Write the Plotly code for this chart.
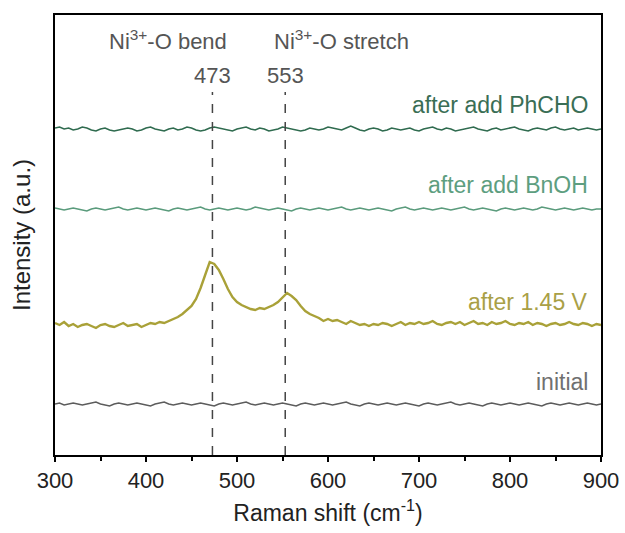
import plotly.graph_objects as go

wavenumber = list(range(300, 905, 5))

phcho = [327, 328, 326, 327, 325, 326, 328, 327, 325, 324,
         326, 327, 325, 324, 325, 326, 327, 326, 324, 325,
         327, 328, 326, 325, 324, 326, 327, 325, 326, 328,
         327, 325, 324, 325, 327, 328, 327, 326, 325, 324,
         326, 327, 328, 326, 325, 327, 326, 324, 325, 326,
         328, 327, 326, 325, 324, 325, 327, 326, 325, 326,
         328, 327, 326, 325, 327, 329, 327, 325, 324, 326,
         327, 326, 324, 325, 327, 326, 325, 326, 327, 325,
         324, 326, 327, 328, 326, 325, 327, 326, 324, 325,
         326, 327, 328, 326, 325, 324, 326, 327, 325, 326,
         327, 328, 326, 325, 324, 326, 327, 326, 325, 327,
         328, 326, 325, 326, 327, 325, 326, 327, 326, 325,
         326]

bnoh = [247, 246, 245, 246, 247, 246, 245, 244, 246, 247,
        246, 245, 246, 247, 248, 246, 245, 246, 247, 246,
        245, 246, 247, 246, 245, 244, 246, 247, 246, 245,
        246, 247, 248, 246, 245, 246, 247, 246, 245, 246,
        247, 246, 245, 246, 248, 247, 246, 245, 246, 247,
        246, 245, 244, 246, 247, 246, 245, 246, 247, 246,
        245, 246, 247, 248, 246, 245, 246, 247, 246, 245,
        246, 247, 246, 245, 244, 246, 247, 248, 246, 245,
        246, 247, 246, 245, 246, 247, 246, 245, 246, 247,
        248, 246, 245, 246, 247, 246, 245, 244, 246, 247,
        246, 245, 246, 247, 246, 245, 246, 248, 247, 246,
        245, 246, 247, 246, 245, 246, 247, 246, 245, 246,
        246]

after_145v = [132, 130, 133, 129, 131, 128, 130, 131, 129, 127,
              130, 131, 129, 128, 130, 132, 129, 130, 131, 128,
              130, 132, 131, 133, 132, 134, 136, 138, 141, 145,
              149, 156, 167, 180, 193, 191, 185, 176, 166, 158,
              153, 150, 148, 146, 145, 147, 146, 148, 150, 153,
              158, 162, 159, 155, 149, 144, 141, 139, 137, 134,
              136, 134, 135, 133, 131, 134, 132, 130, 131, 129,
              131, 130, 132, 131, 129, 131, 133, 130, 132, 131,
              133, 131, 132, 134, 131, 130, 132, 133, 131, 133,
              130, 132, 134, 131, 132, 130, 133, 131, 132, 134,
              131, 130, 132, 131, 133, 130, 132, 131, 129, 131,
              132, 130, 131, 133, 131, 130, 132, 131, 129, 131,
              130]

initial = [51, 52, 50, 51, 52, 51, 50, 51, 52, 53,
           51, 50, 49, 51, 52, 51, 50, 51, 52, 51,
           50, 49, 51, 52, 53, 51, 50, 51, 52, 51,
           50, 51, 52, 51, 50, 49, 51, 52, 51, 50,
           51, 52, 53, 51, 50, 51, 52, 51, 50, 51,
           52, 51, 50, 49, 51, 52, 51, 50, 51, 52,
           51, 50, 51, 52, 53, 51, 50, 49, 51, 52,
           51, 50, 51, 52, 51, 50, 51, 52, 51, 50,
           49, 51, 52, 51, 50, 51, 52, 53, 51, 50,
           51, 52, 51, 50, 49, 51, 52, 51, 50, 51,
           52, 51, 50, 51, 52, 51, 50, 49, 51, 52,
           51, 50, 51, 52, 51, 50, 51, 52, 51, 50,
           51]

series_names = ["after add PhCHO", "after add BnOH", "after 1.45 V", "initial"]
series_values = [phcho, bnoh, after_145v, initial]
line_colors = ["#2f6b4f", "#5a9b7c", "#a9a138", "#5c5c5c"]
label_colors = ["#3a6e55", "#5d9e80", "#a9a046", "#707070"]
label_y = [350, 270, 153, 73]
line_widths = [1.6, 1.6, 2.4, 1.4]

peak_positions = [473, 553]
peak_names = ["Ni<sup>3+</sup>-O bend", "Ni<sup>3+</sup>-O stretch"]
peak_name_x = [424, 615]

FONT = "Liberation Sans, Arial, sans-serif"

fig = go.Figure()
for name, vals, col, w in zip(series_names, series_values, line_colors, line_widths):
    fig.add_trace(go.Scatter(x=wavenumber, y=vals, mode="lines", name=name,
                             line=dict(color=col, width=w)))

for name, col, ly in zip(series_names, label_colors, label_y):
    fig.add_annotation(x=888, y=ly, text=name, showarrow=False, xanchor="right",
                       yanchor="middle", font=dict(size=23, color=col, family=FONT))

for p in peak_positions:
    fig.add_shape(type="line", x0=p, x1=p, y0=0, y1=363, xref="x", yref="y",
                  line=dict(color="#444444", width=1.5, dash="dash"))
    fig.add_annotation(x=p, y=380, text=str(p), showarrow=False, yanchor="middle",
                       font=dict(size=22, color="#555555", family=FONT))

for nm, nx in zip(peak_names, peak_name_x):
    fig.add_annotation(x=nx, y=415, text=nm, showarrow=False, yanchor="middle",
                       font=dict(size=22, color="#555555", family=FONT))

fig.update_layout(
    width=625, height=533,
    margin=dict(l=55, r=24, t=15, b=78),
    paper_bgcolor="white", plot_bgcolor="white",
    showlegend=False,
    font=dict(family=FONT, color="#222222"),
)
fig.update_xaxes(range=[300, 900], dtick=100, tick0=300, showgrid=False, zeroline=False,
                 automargin=False,
                 showline=True, mirror=True, linewidth=2, linecolor="black",
                 ticks="outside", ticklen=5, tickwidth=1.5, tickcolor="black",
                 minor=dict(dtick=50, ticks="outside", ticklen=4, tickwidth=1.5, tickcolor="black"),
                 tickfont=dict(size=22, color="#222222", family=FONT),
                 title=dict(text="Raman shift (cm<sup>-1</sup>)", standoff=12,
                            font=dict(size=23, color="#222222", family=FONT)))
fig.update_yaxes(range=[0, 440], showgrid=False, zeroline=False, showticklabels=False,
                 automargin=False,
                 showline=True, mirror=True, linewidth=2, linecolor="black", ticks="",
                 title=dict(text="Intensity (a.u.)", standoff=16,
                            font=dict(size=24, color="#222222", family=FONT)))

fig.write_html("out.html", config={"displayModeBar": False},
               post_script="document.body.style.margin='0';")
